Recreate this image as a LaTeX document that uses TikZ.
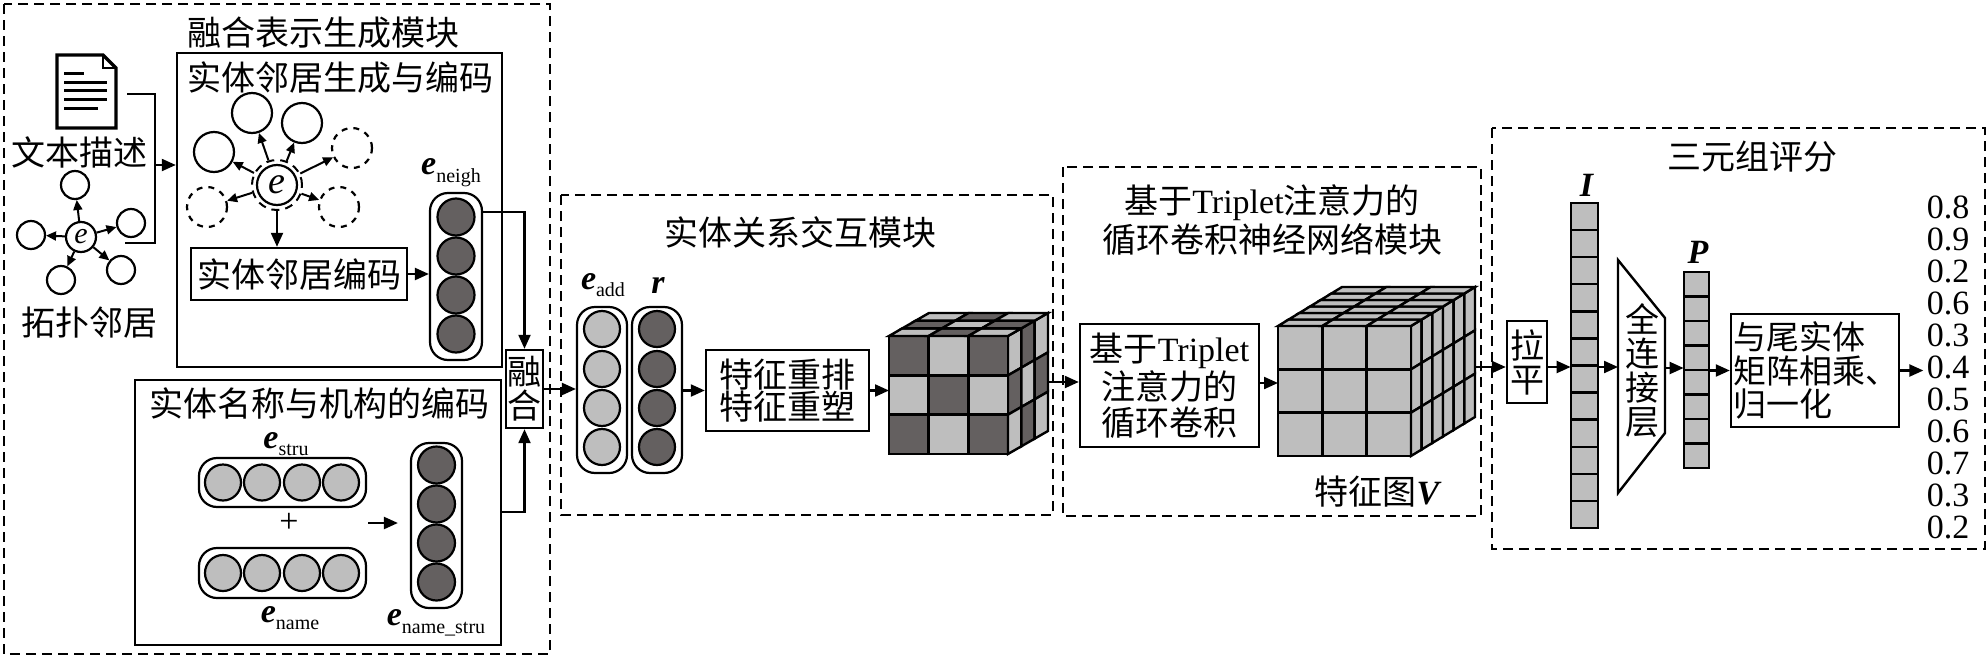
\documentclass[tikz,border=0pt]{standalone}
\usepackage{fontspec}
\setmainfont{Liberation Serif}
\newfontfamily\cjk{Noto Sans CJK SC}
\usetikzlibrary{arrows.meta}
\definecolor{tonedark}{RGB}{100,96,96}
\definecolor{tonelight}{RGB}{190,190,190}
\colorlet{tone0}{tonedark}
\colorlet{tone1}{tonelight}
\newcommand{\zh}[1]{{\cjk #1}}
\newcommand{\emb}[2]{{\bfseries\itshape #1}\raisebox{-0.5ex}{\fontsize{10}{10}\selectfont #2}}

\begin{document}
\begin{tikzpicture}[x=0.5pt,y=-0.5pt,
    every node/.style={font=\fontsize{17}{17}\selectfont, inner sep=1pt},
    zh/.style={font=\fontsize{17}{17}\selectfont\cjk},
    frame/.style={draw, line width=1pt, dash pattern=on 5pt off 3pt},
    panel/.style={draw, line width=1.2pt, inner sep=0pt},
    pill/.style={draw, line width=1.1pt, rounded corners=9pt, inner sep=0pt},
    ball/.style={circle, draw, line width=1.1pt, minimum size=18.5pt, inner sep=0pt},
    arr/.style={-{Triangle[length=7pt,width=6pt]}, line width=1.1pt},
    sarr/.style={-{Triangle[length=5pt,width=4.5pt]}, line width=1pt},
    cubeline/.style={draw, line width=1.2pt},
    cell/.style={draw, line width=1.2pt, fill=tonelight}]
\useasboundingbox (0,0) rectangle (1988,659);

% fusion module
\draw[frame] (4,4) rectangle (550,654);
\node[zh] at (323,33) {融合表示生成模块};
\node[panel, minimum width=162.5pt, minimum height=157pt] (boxA) at (339.5,210) {};
\node[zh] at (340,78) {实体邻居生成与编码};

% text description icon
\draw[line width=1.6pt, fill=white] (57,55) -- (103,55) -- (116,68) -- (116,128) -- (57,128) -- cycle;
\draw[line width=1.2pt] (103,55) -- (103,68) -- (116,68);
\foreach \y/\e in {73/84, 82/107, 90/107, 99/107, 108/98}
  \draw[line width=1.5pt] (64,\y) -- (\e,\y);
\node[zh] at (79,152) {文本描述};

% topological neighbours
\node[ball, minimum size=15pt, font=\fontsize{15}{15}\selectfont\itshape] (te) at (81,237) {e};
\foreach \x/\y [count=\n] in {75/185, 31/235, 131/223, 121/270, 61/280} {
  \node[ball, minimum size=14pt] (t\n) at (\x,\y) {};
  \draw[sarr] (te) -- (t\n);
}
\node[zh] at (89,323) {拓扑邻居};

\coordinate (docR) at (127,94);
\coordinate (topoR) at (125,243);
\coordinate (join) at (155,165);
\draw[line width=1.1pt] (docR) -| (join) |- (topoR);
\draw[arr] (join) -- (boxA.west |- join);

% generated neighbours
\node[ball, minimum size=20pt, font=\fontsize{19}{19}\selectfont\itshape] (ce) at (277,185) {e};
\node[circle, draw, line width=1pt, dash pattern=on 4pt off 3pt, minimum size=25pt] (ring) at (277,185) {};
\foreach \x/\y/\s [count=\n] in {214/152/solid, 252/113/solid, 302/123/solid,
    352/148/dashed, 207/207/dashed, 339/207/dashed} {
  \node[ball, minimum size=20pt, \s] (g\n) at (\x,\y) {};
  \draw[sarr] (ring) -- (g\n);
}
\node[panel, minimum width=108pt, minimum height=26pt, font=\fontsize{17}{17}\selectfont\cjk] (boxB) at (299,274) {实体邻居编码};
\draw[arr] (ring.south) -- (ring.south |- boxB.north);

\node[pill, minimum width=26pt, minimum height=83.5pt] (neigh) at (456,276.5) {};
\foreach \y in {217,256,295,334}
  \node[ball, fill=tonedark] at (456,\y) {};
\node at (451,173) {\emb{e}{neigh}};
\draw[arr] (boxB.east) -- (neigh.west |- boxB.east);

\node[panel, minimum width=18.5pt, minimum height=39pt, align=center, font=\fontsize{17}{17}\selectfont\cjk] (fuse) at (524.5,389) {融\\合};
\draw[arr] (neigh.east |- 0,212) -| (fuse.north);

% name and structure encoding
\node[panel, minimum width=183pt, minimum height=132.5pt] (boxC) at (318,512.5) {};
\node[zh, inner sep=0pt] at (319,403) {实体名称与机构的编码};
\node[inner sep=0pt] at (286,444) {\emb{e}{stru}};
\node[pill, minimum width=83.5pt, minimum height=24.5pt] (stru) at (282.5,482.5) {};
\node[pill, minimum width=83.5pt, minimum height=25pt] (name) at (282.5,573) {};
\foreach \x in {223,262,302,341} {
  \node[ball, minimum size=18pt, fill=tonelight] at (\x,482.5) {};
  \node[ball, minimum size=18pt, fill=tonelight] at (\x,573) {};
}
\node at (289,523) {+};
\node at (290,618) {\emb{e}{name}};
\node[pill, minimum width=25.5pt, minimum height=82.5pt] (nstru) at (436.5,525.5) {};
\foreach \y in {465,504,543,582}
  \node[ball, fill=tonedark] at (436.5,\y) {};
\node at (436,623) {\emb{e}{name\_stru}};
\coordinate (sumR) at (368,523);
\draw[arr, shorten >=6pt] (sumR) -- (nstru.west |- sumR);
\draw[arr] (boxC.east |- 0,512) -| (fuse.south);

% entity relation interaction
\draw[frame] (561,195) rectangle (1053,515);
\node[zh] at (800,232) {实体关系交互模块};
\node[pill, minimum width=25pt, minimum height=83pt] (eadd) at (602,390) {};
\node[pill, minimum width=25pt, minimum height=83pt] (rel) at (657,390) {};
\foreach \y in {329,369,408,447} {
  \node[ball, minimum size=18pt, fill=tonelight] at (602,\y) {};
  \node[ball, minimum size=18pt, fill=tonedark] at (657,\y) {};
}
\node at (603,285) {\emb{e}{add}};
\node at (658,285) {\textbf{\textit{r}}};
\node[panel, minimum width=81.5pt, minimum height=40.5pt, align=center, font=\fontsize{17}{16}\selectfont\cjk] (reshape) at (787.5,390.5) {特征重排\\特征重塑};
\draw[arr] (fuse.east) -- (eadd.west |- fuse.east);
\draw[arr] (rel.east |- reshape.west) -- (reshape.west);

\foreach \i in {0,1,2} {
  \foreach \j in {0,1,2} {
    \pgfmathtruncatemacro\c{mod(\i+\j,2)}
    \draw[cubeline, fill=tone\c] ({889+39.67*\i},{336+39.33*\j}) rectangle ++(39.67,39.33);
  }
  \foreach \k in {0,1,2} {
    \pgfmathtruncatemacro\c{mod(\i+\k+1,2)}
    \draw[cubeline, fill=tone\c] ({889+39.67*\i+13.33*\k},{336-7.67*\k}) -- ++(39.67,0) -- ++(13.33,-7.67) -- ++(-39.67,0) -- cycle;
    \draw[cubeline, fill=tone\c] ({1008+13.33*\k},{336+39.33*\i-7.67*\k}) -- ++(13.33,-7.67) -- ++(0,39.33) -- ++(-13.33,7.67) -- cycle;
  }
}
\coordinate (cubeAin) at (889,390.5);
\coordinate (cubeAout) at (1048,382);
\draw[arr] (reshape.east) -- (cubeAin);

% triplet attention
\draw[frame] (1063,167) rectangle (1481,516);
\node[align=center, font=\fontsize{17}{18}\selectfont] at (1272,220) {\zh{基于}Triplet\zh{注意力的}\\\zh{循环卷积神经网络模块}};
\node[panel, minimum width=89.5pt, minimum height=61.5pt, align=center, font=\fontsize{17}{18}\selectfont] (trip) at (1169.5,385.5) {\zh{基于}Triplet\\\zh{注意力的}\\\zh{循环卷积}};
\draw[arr] (cubeAout) -- (trip.west |- cubeAout);

\foreach \i in {0,1,2} {
  \foreach \j in {0,1,2}
    \draw[cell] ({1278+44.33*\i},{326+43.33*\j}) rectangle ++(44.33,43.33);
  \foreach \k in {0,...,5} {
    \draw[cell] ({1278+44.33*\i+10.67*\k},{326-6.5*\k}) -- ++(44.33,0) -- ++(10.67,-6.5) -- ++(-44.33,0) -- cycle;
    \draw[cell] ({1411+10.67*\k},{326+43.33*\i-6.5*\k}) -- ++(10.67,-6.5) -- ++(0,43.33) -- ++(-10.67,6.5) -- cycle;
  }
}
\coordinate (cubeBin) at (1278,383);
\coordinate (cubeBout) at (1475,367);
\draw[arr] (trip.east |- cubeBin) -- (cubeBin);
\node at (1378,492) {\zh{特征图}\textbf{\textit{V}}};

% triple scoring
\draw[frame] (1492,128) rectangle (1985,549);
\node[zh] at (1752,157) {三元组评分};
\node[panel, minimum width=20pt, minimum height=41pt, align=center, font=\fontsize{17}{17}\selectfont\cjk] (flat) at (1527,362) {拉\\平};
\draw[arr] (cubeBout) -- (flat.west |- cubeBout);

\foreach \n in {0,...,11}
  \draw[cell] (1571,{203+27.08*\n}) rectangle ++(27,27.08);
\node[minimum width=13.5pt, minimum height=162.5pt, inner sep=0pt] (Icol) at (1584.5,365.5) {};
\node at (1587,185) {\textbf{\textit{I}}};
\draw[arr] (flat.east |- cubeBout) -- (Icol.west |- cubeBout);

\draw[line width=1.2pt] (1618,260) -- (1665,318) -- (1665,433) -- (1618,493) -- cycle;
\node[align=center, font=\fontsize{17}{17}\selectfont\cjk] (fc) at (1642,371) {全\\连\\接\\层};
\coordinate (fcin) at (1618,367);
\coordinate (fcout) at (1665,368);
\draw[arr] (Icol.east |- fcin) -- (fcin);

\foreach \n in {0,...,7}
  \draw[cell] (1684,{272+24.5*\n}) rectangle ++(25,24.5);
\node[minimum width=12.5pt, minimum height=98pt, inner sep=0pt] (Pcol) at (1696.5,370) {};
\node at (1698,252) {\textbf{\textit{P}}};
\draw[arr] (fcout) -- (Pcol.west |- fcout);

\node[panel, minimum width=84pt, minimum height=56.5pt, align=left, text width=82pt, font=\fontsize{16.5}{16.75}\selectfont\cjk] (matmul) at (1815,370.5) {与尾实体\\矩阵相乘、\\归一化};
\draw[arr] (Pcol.east |- matmul.west) -- (matmul.west);

\foreach \v [count=\n] in {0.8,0.9,0.2,0.6,0.3,0.4,0.5,0.6,0.7,0.3,0.2}
  \node[inner sep=0pt] (s\n) at (1948,{207+32*(\n-1)}) {\v};
\draw[arr, shorten >=1.5pt] (matmul.east) -- (s6.west |- matmul.east);
\end{tikzpicture}
\end{document}
